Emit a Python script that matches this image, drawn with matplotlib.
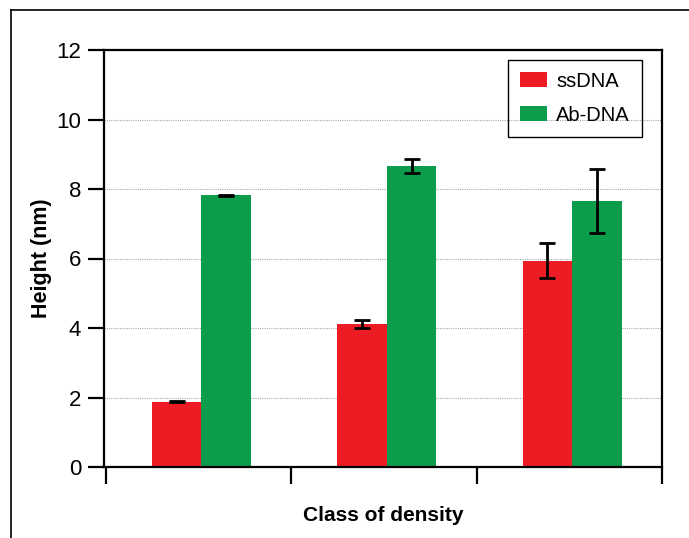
import numpy as np
import matplotlib
matplotlib.use('Agg')
import matplotlib.pyplot as plt
from matplotlib.lines import Line2D

plt.rcParams['font.family'] = ['Liberation Sans', 'DejaVu Sans']

series = ['ssDNA', 'Ab-DNA']
ss_height = [1.88, 4.11, 5.94]
ss_err = [0.02, 0.12, 0.5]
ab_height = [7.82, 8.66, 7.66]
ab_err = [0.02, 0.2, 0.92]
y_ticks = [0, 2, 4, 6, 8, 10, 12]

RED = '#ED1C24'
GREEN = '#0B9D4B'

fig = plt.figure(figsize=(6.89, 5.38), dpi=100)
ax = fig.add_axes([104 / 689, 1 - 467 / 538, 558 / 689, 417 / 538])

# outer frame, only top and left edges are visible in the crop
fig.add_artist(Line2D([11 / 689, 11 / 689], [0, 1 - 10 / 538], transform=fig.transFigure,
                      color='black', lw=1.2))
fig.add_artist(Line2D([11 / 689, 1], [1 - 10 / 538, 1 - 10 / 538], transform=fig.transFigure,
                      color='black', lw=1.2))

x = np.arange(3) + 0.515
w = 0.267
err_kw = dict(elinewidth=2, capthick=2, ecolor='black')
ax.bar(x - w / 2, ss_height, w, yerr=ss_err, capsize=6, color=RED, label=series[0],
       error_kw=err_kw, zorder=2)
ax.bar(x + w / 2, ab_height, w, yerr=ab_err, capsize=6, color=GREEN, label=series[1],
       error_kw=err_kw, zorder=2)

ax.set_xlim(-0.011, 3)
ax.set_ylim(0, 12)
ax.set_yticks(y_ticks)
ax.set_xticks([0, 1, 2, 3])
ax.set_xticklabels([])
ax.yaxis.grid(True, linestyle=(0, (1, 1)), color='#aaaaaa', linewidth=0.8, zorder=0)
ax.set_axisbelow(True)

for s in ax.spines.values():
    s.set_linewidth(1.6)
ax.tick_params(axis='y', direction='out', length=11.5, width=1.6, pad=5, labelsize=16,
               colors='black')
ax.tick_params(axis='x', direction='out', length=12.5, width=1.6)

ax.set_ylabel('Height (nm)', fontsize=15.5, fontweight='bold', labelpad=3)
ax.set_xlabel('Class of density', fontsize=15, fontweight='bold', labelpad=12)

leg = ax.legend(loc='upper right', bbox_to_anchor=(0.964, 0.977), fontsize=14.5,
                fancybox=False, edgecolor='black', facecolor='none', framealpha=1,
                handlelength=1.35, handleheight=0.8, handletextpad=0.45,
                borderpad=0.6, labelspacing=0.75, borderaxespad=0)
leg.get_frame().set_linewidth(1.0)

plt.savefig('out.png', dpi=100)
